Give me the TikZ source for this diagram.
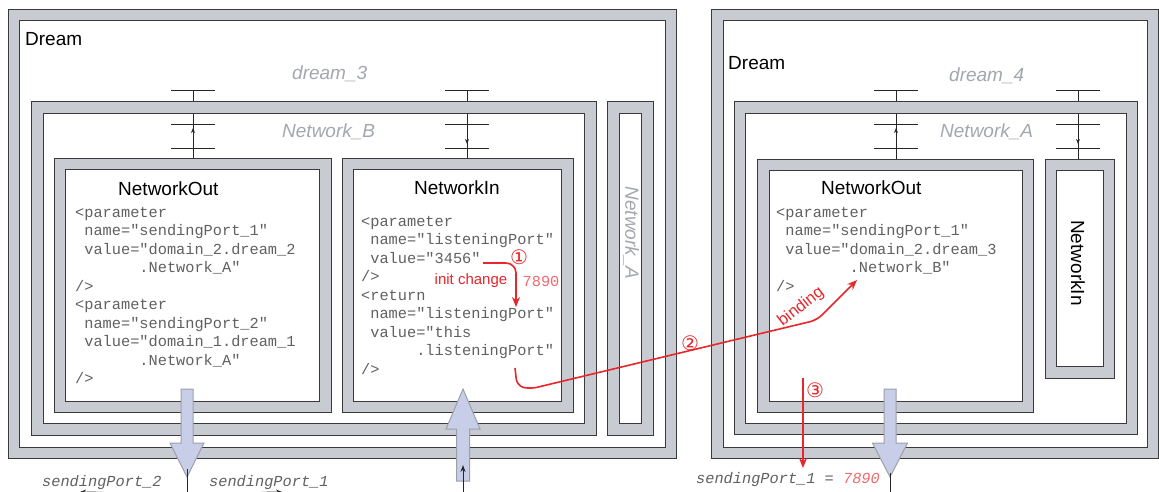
\documentclass[tikz,border=0pt]{standalone}
\usepackage{fontspec}
\setsansfont{Liberation Sans}
\setmonofont{Liberation Mono}
\newfontfamily\circfont{DejaVu Sans}
\usetikzlibrary{arrows.meta,calc}

\definecolor{bandgray}{HTML}{C8CBD2}
\definecolor{framecol}{HTML}{3A3A3A}
\definecolor{codegray}{HTML}{616161}
\definecolor{lblgray}{HTML}{A3A7AE}
\definecolor{arrowfill}{HTML}{C9CEE8}
\definecolor{arrowdraw}{HTML}{9AA0AA}
\definecolor{chgred}{HTML}{E8262B}
\definecolor{numred}{HTML}{F26A6A}

\pgfdeclarelayer{bg}
\pgfsetlayers{bg,main}

\begin{document}
\begin{tikzpicture}[
  x=1pt, y=-1pt,
  font=\sffamily,
  band/.style={draw=framecol, line width=0.9pt, double=bandgray, double distance=10.4pt,
               inner sep=0pt, outer sep=0pt},
  boxtitle/.style={font=\fontsize{19}{22}\selectfont\sffamily, anchor=base west, inner sep=0pt},
  gtag/.style={boxtitle, text=lblgray, font=\fontsize{19}{22}\selectfont\sffamily\itshape},
  codetxt/.style={font=\fontsize{15.3}{18.5}\selectfont\ttfamily, text=codegray, align=left,
                  anchor=north west, inner sep=0pt},
  portlbl/.style={font=\fontsize{15.3}{18}\selectfont\ttfamily\itshape, text=codegray,
                  anchor=base west, inner sep=0pt},
  wire/.style={draw=black!85, line width=0.9pt},
  barrow/.style={draw=arrowdraw, fill=arrowfill, line width=1pt},
  chg/.style={draw=chgred, line width=1.6pt, -{Stealth[length=10pt,width=8pt]}},
  chgtxt/.style={text=chgred, font=\fontsize{15}{18}\selectfont\sffamily, inner sep=0pt},
  cnum/.style={text=chgred, font=\fontsize{20}{22}\selectfont\circfont, inner sep=0pt}
]
\begin{pgfonlayer}{bg}
\fill[white] (0,0) rectangle (1159,491);
\end{pgfonlayer}
\useasboundingbox (0,0) rectangle (1159,491);
\clip (0,0) rectangle (1159,491);

% frames
\node[band, minimum width=657pt, minimum height=438pt] (dreamL) at (342.5,234) {};
\node[band, minimum width=553pt, minimum height=322pt] (netB) at (314,268.5) {};
\node[band, minimum width=265.5pt, minimum height=243pt] (outL) at (192.75,285.5) {};
\node[band, minimum width=219.5pt, minimum height=243pt] (inL) at (457.75,285.5) {};
\node[band, minimum width=34pt, minimum height=322pt] (netAL) at (630.5,268.5) {};
\node[band, minimum width=435.5pt, minimum height=438pt] (dreamR) at (935.25,234) {};
\node[band, minimum width=392pt, minimum height=321.5pt] (netAR) at (936,268.25) {};
\node[band, minimum width=264.5pt, minimum height=242pt] (outR) at (895.75,286) {};
\node[band, minimum width=58pt, minimum height=207.5pt] (inR) at (1080,268.75) {};

% ports, behind the frames
\begin{pgfonlayer}{bg}
\foreach \px/\bx/\ya/\yb in {193/outL/148/128, 467/inL/124/144, 896/outR/148/128, 1078/inR/124/144}{
  \coordinate (port-\bx) at (\px,90);
  \draw[wire] (port-\bx) -- (port-\bx |- \bx.north);
  \foreach \py in {90,124,148}
    \draw[wire] (\px-22,\py) -- (\px+22,\py);
  \draw[wire,-{Stealth[length=5pt,width=4pt]}] (\px,\ya) -- (\px,\yb);
}
\end{pgfonlayer}

% labels
\node[boxtitle] (dreamLlbl) at (25,45) {Dream};
\node[boxtitle] (dreamRlbl) at (728,69) {Dream};
\node[gtag] (dream3) at (292,79) {dream\_3};
\node[gtag] (netBlbl) at (282,137) {Network\_B};
\node[gtag] (dream4) at (949,81) {dream\_4};
\node[gtag] (netARlbl) at (940,137) {Network\_A};
\node[gtag, anchor=center, rotate=-90] (netALlbl) at (631,233) {Network\_A};
\node[boxtitle, anchor=center, rotate=-90] (inRlbl) at (1078,263) {NetworkIn};
\node[boxtitle] (outLlbl) at (118,195) {NetworkOut};
\node[boxtitle] (inLlbl) at (414,194) {NetworkIn};
\node[boxtitle] (outRlbl) at (821,194) {NetworkOut};

% code
\node[codetxt] (outLcode) at (75,204) {\strut<parameter\\
~name="sendingPort\_1"\\
~value="domain\_2.dream\_2\\
~~~~~~~.Network\_A"\\
/>\\
<parameter\\
~name="sendingPort\_2"\\
~value="domain\_1.dream\_1\\
~~~~~~~.Network\_A"\\
/>};
\node[codetxt] (inLcode) at (361,213) {\strut<parameter\\
~name="listeningPort"\\
~value="3456"\\
/>\\
<return\\
~name="listeningPort"\\
~value="this\\
~~~~~~.listeningPort"\\
/>};
\node[codetxt] (outRcode) at (776,204) {\strut<parameter\\
~name="sendingPort\_1"\\
~value="domain\_2.dream\_3\\
~~~~~~~~.Network\_B"\\
/>};

% block arrows
\coordinate (outLsend) at (187,389);
\draw[barrow] (outLsend) ++(-6,0) -- ++(12,0) -- ++(0,54) -- ++(11,0) -- ++(-17,34)
  -- ++(-17,-34) -- ++(11,0) -- cycle;
\coordinate (inLrecv) at (463,481);
\draw[barrow] (inLrecv) ++(-6.5,0) -- ++(13,0) -- ++(0,-52) -- ++(10.5,0) -- ++(-17,-40)
  -- ++(-17,40) -- ++(10.5,0) -- cycle;
\coordinate (outRsend) at (890,389);
\draw[barrow] (outRsend) ++(-6,0) -- ++(12,0) -- ++(0,54) -- ++(11.5,0) -- ++(-17.5,34)
  -- ++(-17.5,-34) -- ++(11.5,0) -- cycle;

\coordinate (outLtip) at (187,469);
\coordinate (outLfoot) at (187,497);
\coordinate (sp2tip) at (80,492);
\coordinate (sp1tip) at (282,492);
\draw[wire] (outLtip) -- (outLfoot);
\draw[wire,-{Stealth[length=6pt,width=5pt]}] (outLfoot) to[out=180,in=0] (sp2tip);
\draw[wire,-{Stealth[length=6pt,width=5pt]}] (outLfoot) to[out=0,in=180] (sp1tip);
\coordinate (inLfoot) at (463,495);
\coordinate (inLtip) at (463,465);
\draw[wire,-{Stealth[length=7pt,width=5pt]}] (inLfoot) -- (inLtip);
\coordinate (outRtip) at (890,473);
\coordinate (outRfoot) at (890,495);
\draw[wire] (outRtip) -- (outRfoot);

\node[portlbl] (sp2) at (42,486) {sendingPort\_2};
\node[portlbl] (sp1) at (209,486) {sendingPort\_1};
\node[portlbl] (sp1r) at (696,483) {sendingPort\_1~=~\textcolor{numred}{7890}};

% changes
\coordinate (initA) at (483,263);
\coordinate (initB) at (516,307);
\draw[chg, rounded corners=10pt] (initA) -| (initB);
\node[cnum] (n1) at (519,257) {①};
\node[chgtxt] (initlbl) at (471,281) {init change};
\node[codetxt, anchor=center, text=numred] (newval) at (541,281) {7890};

\coordinate (bindA) at (515,368);
\coordinate (bindB) at (857,280);
\draw[chg, rounded corners=7pt] (bindA) -- (517,386) -- (530,389) -- (817,320) -- (bindB);
\node[cnum] (n2) at (690,343) {②};
\node[chgtxt, rotate=38, font=\fontsize{16.5}{18}\selectfont\sffamily] (bindlbl) at (801,307) {binding};

\coordinate (sendA) at (803,378);
\coordinate (sendB) at (803,468);
\draw[chg] (sendA) -- (sendB);
\node[cnum] (n3) at (815,390) {③};
\end{tikzpicture}
\end{document}
